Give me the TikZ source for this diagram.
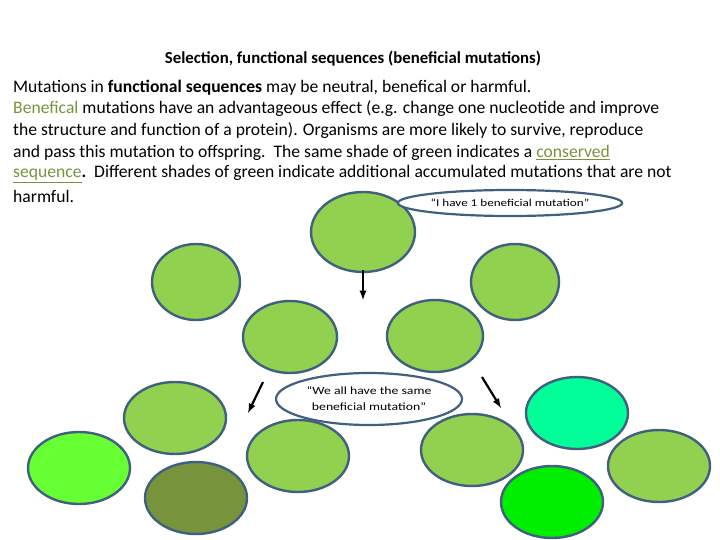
\documentclass[tikz,border=0pt]{standalone}
\usepackage{fontspec}
\setmainfont{Carlito}
\usetikzlibrary{shapes.geometric}
\definecolor{lg}{HTML}{92D050}
\definecolor{bd}{HTML}{41607F}
\definecolor{ol}{HTML}{77933C}
\definecolor{br}{HTML}{66FF33}
\definecolor{aq}{HTML}{00FF99}
\definecolor{gr}{HTML}{00EE00}
\begin{document}
\begin{tikzpicture}[x=1pt,y=-1pt,
  cell/.style={ellipse,draw=bd,line width=2.4pt,fill=#1,inner sep=0pt},
  bub/.style={ellipse,draw=bd,line width=2.2pt,fill=white,inner sep=0pt,align=center},
  txt/.style={anchor=west,inner sep=0pt,font=\fontsize{17.6}{20}\selectfont},
  arr/.style={->,>=latex,line width=2.2pt}]
\useasboundingbox (0,0) rectangle (720,540);
\node[font=\bfseries\fontsize{16.8}{19}\selectfont] (title) at (353,59) {Selection, functional sequences (beneficial mutations)};
\node[txt] (l1) at (13,88) {Mutations in \textbf{functional sequences} may be neutral, benefical or harmful.};
\node[txt] (l2) at (13,109) {\textcolor{ol}{Benefical} mutations have an advantageous effect (e.g. change one nucleotide and improve};
\node[txt] (l3) at (13,131) {the structure and function of a protein). Organisms are more likely to survive, reproduce};
\node[txt] (l4) at (13,153) {and pass this mutation to offspring.\ \ The same shade of green indicates a \textcolor{ol}{\underline{conserved}}};
\node[txt] (l5) at (13,174) {\textcolor{ol}{\underline{sequence}}\textbf{.}\ \ Different shades of green indicate additional accumulated mutations that are not};
\node[txt] (l6) at (13,196) {harmful.};
\node[cell=lg,minimum width=104,minimum height=80] (top) at (363,232) {};
\node[bub,minimum width=190,minimum height=26,font=\fontsize{10.5}{11}\selectfont] (say1) at (510,203) {\scalebox{1.25}[1]{``I have 1 beneficial mutation''}};
\node[cell=lg,minimum width=88,minimum height=76] (r2a) at (196,282) {};
\node[cell=lg,minimum width=88,minimum height=76] (r2b) at (515,282) {};
\node[cell=lg,minimum width=94,minimum height=72] (r3a) at (290,337) {};
\node[cell=lg,minimum width=96,minimum height=72] (r3b) at (435,336) {};
\node[bub,minimum width=186,minimum height=52,font=\fontsize{11}{16}\selectfont] (say2) at (369,399) {\scalebox{1.25}[1]{``We all have the same}\\ \scalebox{1.25}[1]{beneficial mutation''}};
\node[cell=lg,minimum width=102,minimum height=72] (a) at (175,418) {};
\node[cell=br,minimum width=102,minimum height=72] (b) at (79,468) {};
\node[cell=ol,minimum width=102,minimum height=72] (c) at (196,498) {};
\node[cell=lg,minimum width=102,minimum height=72] (d) at (298,456) {};
\node[cell=lg,minimum width=102,minimum height=72] (e) at (472,450) {};
\node[cell=aq,minimum width=102,minimum height=72] (f) at (577,413) {};
\node[cell=lg,minimum width=102,minimum height=72] (g) at (659,466) {};
\node[cell=gr,minimum width=102,minimum height=72] (h) at (552,502) {};
\coordinate (m1) at (363,270); \coordinate (m2) at (363,300);
\coordinate (p1) at (263,382); \coordinate (p2) at (248,413);
\coordinate (q1) at (482,377); \coordinate (q2) at (501,408);
\draw[arr] (m1) -- (m2);
\draw[arr] (p1) -- (p2);
\draw[arr] (q1) -- (q2);
\end{tikzpicture}
\end{document}
